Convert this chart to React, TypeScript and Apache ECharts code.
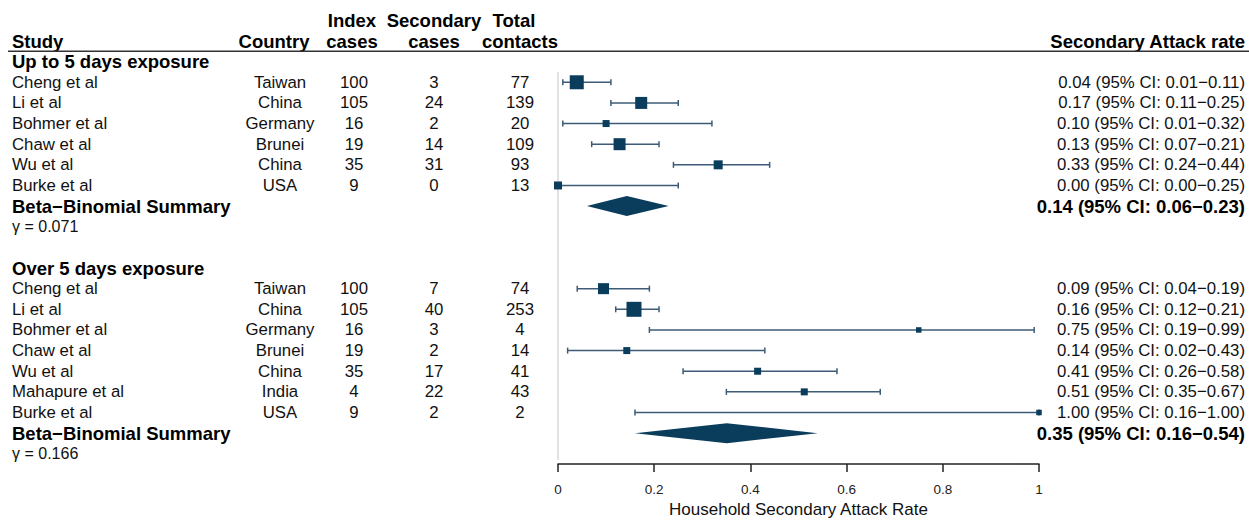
import React, { useEffect, useRef } from "react";
import * as echarts from "echarts";

// ---------- data ----------
const studiesUp = ["Cheng et al", "Li et al", "Bohmer et al", "Chaw et al", "Wu et al", "Burke et al"];
const countriesUp = ["Taiwan", "China", "Germany", "Brunei", "China", "USA"];
const indexUp = [100, 105, 16, 19, 35, 9];
const secondaryUp = [3, 24, 2, 14, 31, 0];
const contactsUp = [77, 139, 20, 109, 93, 13];
const estUp = [0.039, 0.173, 0.1, 0.128, 0.333, 0.0];
const lowUp = [0.01, 0.11, 0.01, 0.07, 0.24, 0.0];
const highUp = [0.11, 0.25, 0.32, 0.21, 0.44, 0.25];
const weightUp = [14, 12, 7, 12, 9, 8];
const summaryUp = [0.143, 0.06, 0.23];
const gammaUp = 0.071;

const studiesOver = ["Cheng et al", "Li et al", "Bohmer et al", "Chaw et al", "Wu et al", "Mahapure et al", "Burke et al"];
const countriesOver = ["Taiwan", "China", "Germany", "Brunei", "China", "India", "USA"];
const indexOver = [100, 105, 16, 19, 35, 4, 9];
const secondaryOver = [7, 40, 3, 2, 17, 22, 2];
const contactsOver = [74, 253, 4, 14, 41, 43, 2];
const estOver = [0.0946, 0.158, 0.75, 0.143, 0.415, 0.512, 1.0];
const lowOver = [0.04, 0.12, 0.19, 0.02, 0.26, 0.35, 0.16];
const highOver = [0.19, 0.21, 0.99, 0.43, 0.58, 0.67, 1.0];
const weightOver = [11, 15, 5.5, 7, 7, 7, 5.5];
const summaryOver = [0.351, 0.16, 0.54];
const gammaOver = 0.166;

const sectionTitles = ["Up to 5 days exposure", "Over 5 days exposure"];
const summaryLabel = "Beta\u2212Binomial Summary";
const xTicks = [0, 0.2, 0.4, 0.6, 0.8, 1];
const axisTitle = "Household Secondary Attack Rate";

// ---------- build rows ----------
const sections = [
  { title: sectionTitles[0], studies: studiesUp, countries: countriesUp, index: indexUp, secondary: secondaryUp, contacts: contactsUp, est: estUp, low: lowUp, high: highUp, weight: weightUp, summary: summaryUp, gamma: gammaUp },
  { title: sectionTitles[1], studies: studiesOver, countries: countriesOver, index: indexOver, secondary: secondaryOver, contacts: contactsOver, est: estOver, low: lowOver, high: highOver, weight: weightOver, summary: summaryOver, gamma: gammaOver },
];

const ciText = (e: number, l: number, h: number) =>
  `${e.toFixed(2)} (95% CI: ${l.toFixed(2)}\u2212${h.toFixed(2)})`;

type TextRow = { row: number; kind: string; cells?: any[]; text?: string; right?: string };
const textRows: TextRow[] = [{ row: -1, kind: "header" }];
const marks: number[][] = [];
const diamonds: number[][] = [];
let r = 0;
sections.forEach((s) => {
  textRows.push({ row: r, kind: "section", text: s.title });
  r++;
  s.studies.forEach((name, i) => {
    textRows.push({
      row: r,
      kind: "study",
      cells: [name, s.countries[i], s.index[i], s.secondary[i], s.contacts[i]],
      right: ciText(s.est[i], s.low[i], s.high[i]),
    });
    marks.push([s.est[i], s.low[i], s.high[i], r, s.weight[i]]);
    r++;
  });
  textRows.push({ row: r, kind: "summary", text: summaryLabel, right: ciText(s.summary[0], s.summary[1], s.summary[2]) });
  diamonds.push([s.summary[0], s.summary[1], s.summary[2], r]);
  r++;
  textRows.push({ row: r, kind: "gamma", text: "\u03b3 = " + s.gamma });
  r++;
  r++;
});
const lastRow = r - 2;

// row index -> y value (row -1 at top of the grid, row lastRow+0.5 at the x axis)
const Y_MAX = lastRow + 1.5;
const rowY = (row: number) => lastRow + 0.5 - row;

// ---------- layout ----------
const W = 1249;
const H = 523;
const FONT = "'Liberation Sans', Arial, Helvetica, sans-serif";
const X_STUDY = 12;
const X_COUNTRY = 280;
const X_INDEX = 354;
const X_SEC = 434;
const X_TOTAL = 520;
const X_RIGHT = 1245;
const MARK = "#0a3c5c";
const LINE = "#3d5b77";
const BODY = 16.8;
const BOLD = 18.5;

function txt(x: number, y: number, text: string, align: string, size: number, bold: boolean, fill = "#111") {
  return {
    type: "text",
    x,
    y,
    silent: true,
    style: {
      text,
      fill,
      fontSize: size,
      fontFamily: FONT,
      fontWeight: bold ? "bold" : "normal",
      align,
      verticalAlign: "middle",
    },
  };
}

export default function App() {
  const ref = useRef<HTMLDivElement>(null);
  useEffect(() => {
    document.body.style.margin = "0";
    document.body.style.overflow = "hidden";
    if (!ref.current) return;
    const chart = echarts.init(ref.current, null, { renderer: "svg", width: W, height: H });
    const option: any = {
      animation: false,
      backgroundColor: "#ffffff",
      grid: { left: 558, right: 210, top: 41, bottom: 51.5 },
      xAxis: {
        type: "value",
        position: "bottom",
        min: 0,
        max: 1,
        interval: 0.2,
        splitLine: { show: false },
        axisLine: { show: true, onZero: false, lineStyle: { color: "#222", width: 1.5 } },
        axisTick: { show: true, inside: false, length: 8, lineStyle: { color: "#222", width: 1.5 } },
        axisLabel: {
          color: "#222",
          fontSize: 13.5,
          fontFamily: FONT,
          margin: 18,
          formatter: (v: number) => {
            const t = xTicks.find((k) => Math.abs(k - v) < 1e-9);
            return t === undefined ? "" : String(t);
          },
        },
        name: axisTitle,
        nameLocation: "middle",
        nameGap: 36,
        nameTextStyle: { color: "#111", fontSize: 17, fontFamily: FONT },
      },
      yAxis: {
        type: "value",
        min: 0,
        max: Y_MAX,
        axisLine: { show: false },
        axisTick: { show: false },
        axisLabel: { show: false },
        splitLine: { show: false },
      },
      series: [
        {
          type: "custom",
          name: "ref",
          clip: false,
          silent: true,
          data: [[0, rowY(0.5), rowY(lastRow + 0.3)]],
          renderItem: (params: any, api: any) => {
            const a = api.coord([api.value(0), api.value(1)]);
            const b = api.coord([api.value(0), api.value(2)]);
            return {
              type: "line",
              shape: { x1: a[0], y1: a[1], x2: b[0], y2: b[1] },
              style: { stroke: "#dadada", lineWidth: 1.5 },
            };
          },
        },
        {
          type: "custom",
          name: "studies",
          clip: false,
          silent: true,
          data: marks.map((m) => [m[0], m[1], m[2], rowY(m[3]), m[4]]),
          renderItem: (params: any, api: any) => {
            const yv = api.value(3);
            const pe = api.coord([api.value(0), yv]);
            const pl = api.coord([api.value(1), yv]);
            const ph = api.coord([api.value(2), yv]);
            const y = pe[1];
            const s = api.value(4);
            return {
              type: "group",
              children: [
                { type: "line", shape: { x1: pl[0], y1: y, x2: ph[0], y2: y }, style: { stroke: LINE, lineWidth: 1.5 } },
                { type: "line", shape: { x1: pl[0], y1: y - 3, x2: pl[0], y2: y + 3 }, style: { stroke: LINE, lineWidth: 1.5 } },
                { type: "line", shape: { x1: ph[0], y1: y - 3, x2: ph[0], y2: y + 3 }, style: { stroke: LINE, lineWidth: 1.5 } },
                { type: "rect", shape: { x: pe[0] - s / 2, y: y - s / 2, width: s, height: s }, style: { fill: MARK } },
              ],
            };
          },
        },
        {
          type: "custom",
          name: "summary",
          clip: false,
          silent: true,
          data: diamonds.map((d) => [d[0], d[1], d[2], rowY(d[3])]),
          renderItem: (params: any, api: any) => {
            const yv = api.value(3);
            const pe = api.coord([api.value(0), yv]);
            const pl = api.coord([api.value(1), yv]);
            const ph = api.coord([api.value(2), yv]);
            const y = pe[1];
            return {
              type: "polygon",
              shape: { points: [[pl[0], y], [pe[0], y - 10], [ph[0], y], [pe[0], y + 10]] },
              style: { fill: MARK },
            };
          },
        },
        {
          type: "custom",
          name: "table",
          clip: false,
          silent: true,
          data: textRows.map((t) => [0, rowY(t.row)]),
          renderItem: (params: any, api: any) => {
            const t = textRows[params.dataIndex];
            const y = api.coord([0, rowY(t.row)])[1];
            const children: any[] = [];
            if (t.kind === "header") {
              const y1 = api.coord([0, rowY(t.row - 1)])[1];
              const yl = api.coord([0, rowY(t.row + 0.5)])[1];
              children.push(txt(X_INDEX - 2, y1, "Index", "center", BOLD, true, "#000"));
              children.push(txt(X_SEC, y1, "Secondary", "center", BOLD, true, "#000"));
              children.push(txt(X_TOTAL - 6, y1, "Total", "center", BOLD, true, "#000"));
              children.push(txt(X_STUDY, y, "Study", "left", BOLD, true, "#000"));
              children.push(txt(X_COUNTRY - 6, y, "Country", "center", BOLD, true, "#000"));
              children.push(txt(X_INDEX - 2, y, "cases", "center", BOLD, true, "#000"));
              children.push(txt(X_SEC, y, "cases", "center", BOLD, true, "#000"));
              children.push(txt(X_TOTAL, y, "contacts", "center", BOLD, true, "#000"));
              children.push(txt(X_RIGHT, y, "Secondary Attack rate", "right", BOLD, true, "#000"));
              children.push({
                type: "line",
                shape: { x1: 8, y1: yl, x2: W, y2: yl },
                style: { stroke: "#333", lineWidth: 1.5 },
              });
            } else if (t.kind === "section") {
              children.push(txt(X_STUDY, y, t.text!, "left", BOLD, true, "#000"));
            } else if (t.kind === "study") {
              const c = t.cells!;
              children.push(txt(X_STUDY, y, String(c[0]), "left", BODY, false));
              children.push(txt(X_COUNTRY, y, String(c[1]), "center", BODY, false));
              children.push(txt(X_INDEX, y, String(c[2]), "center", BODY, false));
              children.push(txt(X_SEC, y, String(c[3]), "center", BODY, false));
              children.push(txt(X_TOTAL, y, String(c[4]), "center", BODY, false));
              children.push(txt(X_RIGHT, y, t.right!, "right", BODY, false));
            } else if (t.kind === "summary") {
              children.push(txt(X_STUDY, y, t.text!, "left", BOLD, true, "#000"));
              children.push(txt(X_RIGHT, y, t.right!, "right", BOLD, true, "#000"));
            } else if (t.kind === "gamma") {
              children.push(txt(X_STUDY, y, t.text!, "left", 16, false));
            }
            return { type: "group", children };
          },
        },
      ],
    };
    chart.setOption(option);
    return () => chart.dispose();
  }, []);
  return <div ref={ref} style={{ width: W, height: H }} />;
}
